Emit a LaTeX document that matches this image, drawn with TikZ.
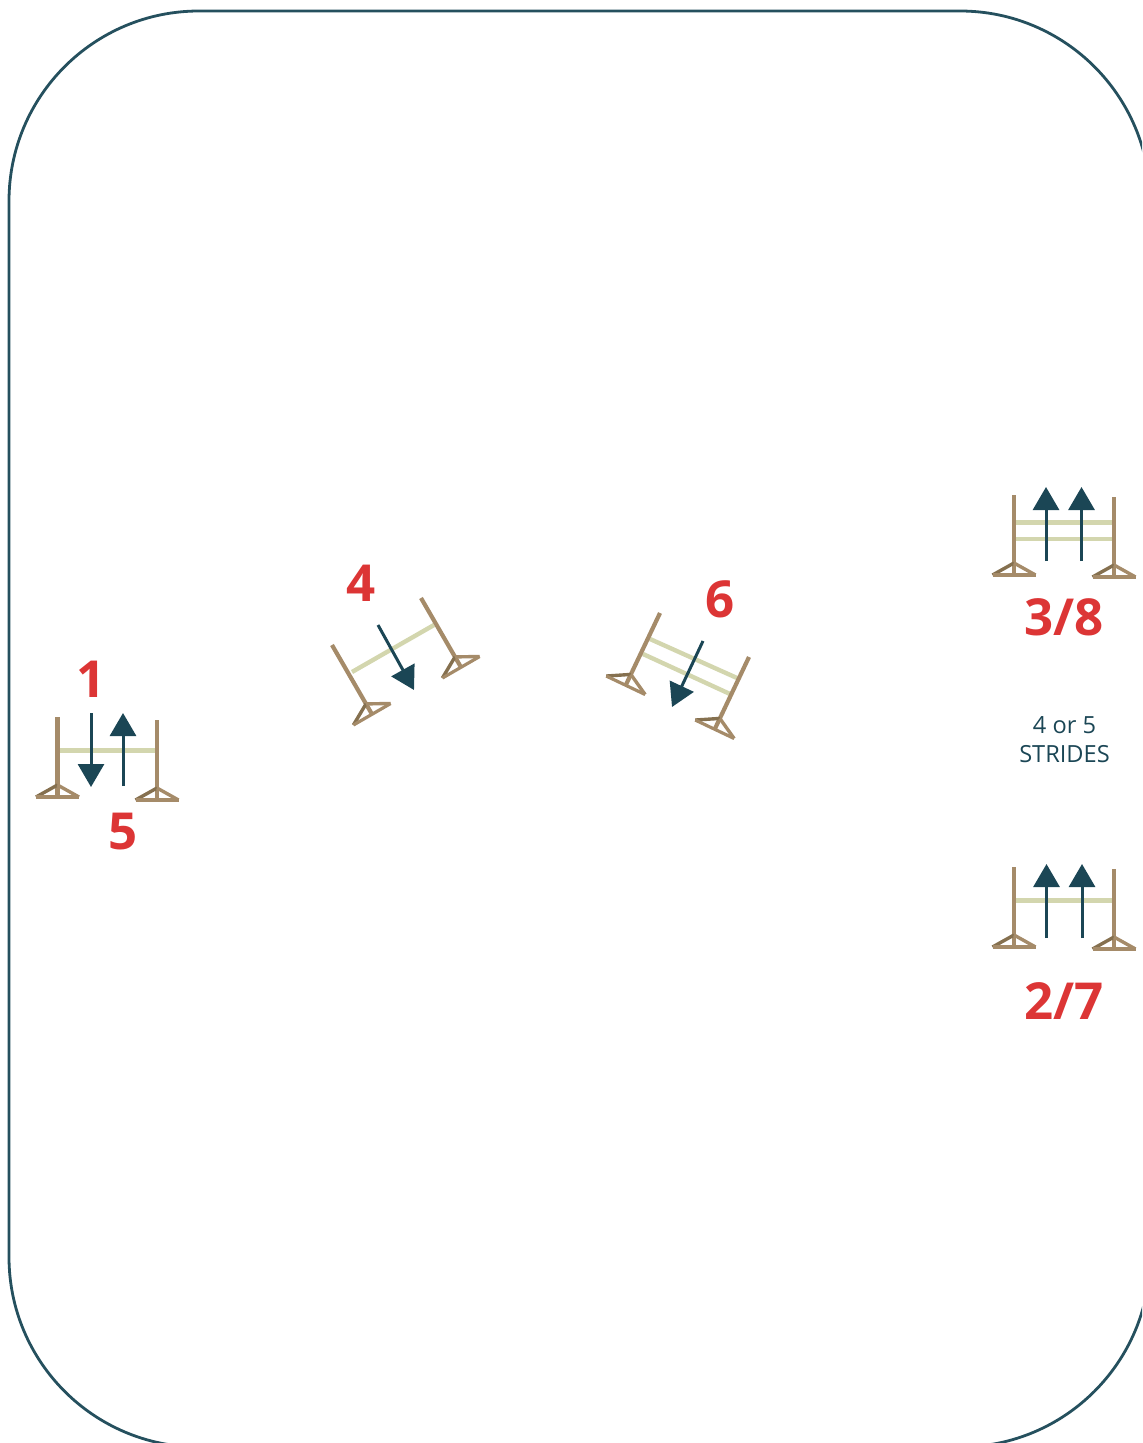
\documentclass[tikz,border=0pt]{standalone}
\usepackage{fontspec}
\setmainfont{Open Sans}
\usetikzlibrary{arrows.meta}
\definecolor{framecol}{HTML}{25505E}
\definecolor{arrowcol}{HTML}{1B4655}
\definecolor{postcol}{HTML}{A58B69}
\definecolor{bracecol}{HTML}{85704F}
\definecolor{railcol}{HTML}{D3D6AE}
\definecolor{labelcol}{HTML}{DC3535}
\tikzset{
    rail/.style={railcol, line width=2.2pt},
    dirarrow/.style={arrowcol, line width=1.5pt, -{Triangle[length=11.5pt,width=13pt]}},
    numlabel/.style={labelcol, font=\fontsize{25.5}{30}\selectfont\bfseries},
    stand/.pic={
        \draw[postcol, line width=2.1pt] (0,0) -- (0,80);
        \draw[bracecol, line width=1.7pt] (-21.5,80) -- (0,68);
        \draw[postcol, line width=1.7pt] (21.5,80) -- (0,68);
        \draw[postcol, line width=1.6pt] (-21.5,80) -- (21.5,80);
    }
}
\begin{document}
\begin{tikzpicture}[x=0.5pt, y=-0.5pt]
    \clip (0,0) rectangle (1142,1443);
    % arena
    \draw[framecol, line width=1.4pt, rounded corners=95pt] (9,11) rectangle (1150,1447);

    % jump 1/5
    \draw[rail] (57.5,750.5) -- (157,750.5);
    \pic at (57.5,717) {stand};
    \pic at (157,720) {stand};
    \draw[dirarrow] (91,713) -- (91,787);
    \draw[dirarrow] (123,786) -- (123,713);
    \node[numlabel] (one) at (91.5,679) {1};
    \node[numlabel] (five) at (123.5,832) {5};

    % jump 4
    \draw[rail] (352,672) -- (434,625);
    \pic[rotate=30] at (332,645) {stand};
    \pic[rotate=30] at (421,598) {stand};
    \draw[dirarrow] (378,625) -- (414,690);
    \node[numlabel] (four) at (361,583) {4};

    % jump 6
    \draw[rail] (650,639) -- (737,678);
    \draw[rail] (643,654) -- (730,694);
    \pic[rotate=-25.4] at (660,613) {stand};
    \pic[rotate=-25.4] at (749,657) {stand};
    \draw[dirarrow] (703,641) -- (672,707);
    \node[numlabel] (six) at (720.5,599.5) {6};

    % jump 3/8
    \foreach \y in {522.5,539} {
        \draw[rail] (1014,\y) -- (1114,\y);
    }
    \pic at (1014,495) {stand};
    \pic at (1114,497) {stand};
    \foreach \x in {1046,1081.5} {
        \draw[dirarrow] (\x,561) -- (\x,487);
    }
    \node[numlabel] (threeeight) at (1064,617) {3/8};

    \node[arrowcol, font=\fontsize{11.8}{14.5}\selectfont, align=center] (strides) at (1064.5,740) {4 or 5\\STRIDES};

    % jump 2/7
    \draw[rail] (1014,900.5) -- (1114,900.5);
    \pic at (1014,867) {stand};
    \pic at (1114,869) {stand};
    \foreach \x in {1046.5,1082} {
        \draw[dirarrow] (\x,938) -- (\x,864);
    }
    \node[numlabel] (twoseven) at (1064,1001) {2/7};
\end{tikzpicture}
\end{document}
